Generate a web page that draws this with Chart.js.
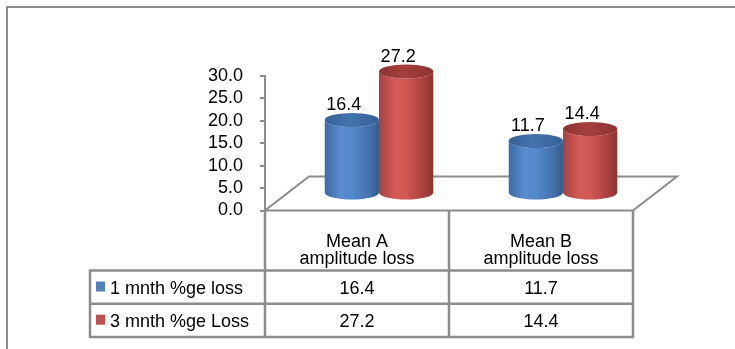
<!DOCTYPE html>
<html>
<head>
<meta charset="utf-8">
<script src="https://cdn.jsdelivr.net/npm/chart.js@4/dist/chart.umd.min.js"></script>
<style>
  html, body { margin: 0; padding: 0; background: #fff; overflow: hidden; }
  #wrap { width: 735px; height: 349px; position: relative; }
</style>
</head>
<body>
<div id="wrap"><canvas id="c" width="735" height="349"></canvas></div>
<script>
// Data
const categories = [['Mean A', 'amplitude loss'], ['Mean B', 'amplitude loss']];
const seriesNames = ['1 mnth %ge loss', '3 mnth %ge Loss'];
const oneMonthLoss = [16.4, 11.7];
const threeMonthLoss = [27.2, 14.4];
const yTicks = [0, 5, 10, 15, 20, 25, 30];

const FONT = "'Liberation Sans', Arial, sans-serif";
const FSIZE = 18;
const LINE = '#8c8c8c';
const DEPTH_X = 44, DEPTH_Y = 34;   // floor depth offset
const RY = 7;                        // ellipse half-height of cylinder caps

const looks = [
  { key: '#4F81BD', top: '#4473ab', rim: '#36609a',
    stops: [[0, '#3d6aa6'], [0.3, '#5a8dd0'], [0.5, '#5489cc'], [0.8, '#4573ae'], [1, '#345b8c']] },
  { key: '#C0504D', top: '#a5403e', rim: '#8d3331',
    stops: [[0, '#a8413f'], [0.3, '#d45c59'], [0.5, '#cf5653'], [0.8, '#ad4442'], [1, '#8a3230']] }
];

function cylinder(ctx, cx, top, bottom, rx, look) {
  const g = ctx.createLinearGradient(cx - rx, 0, cx + rx, 0);
  look.stops.forEach(([o, c]) => g.addColorStop(o, c));
  ctx.beginPath();
  ctx.moveTo(cx - rx, top);
  ctx.lineTo(cx - rx, bottom);
  ctx.ellipse(cx, bottom, rx, RY, 0, Math.PI, 0, true);
  ctx.lineTo(cx + rx, top);
  ctx.ellipse(cx, top, rx, RY, 0, 0, Math.PI, false);
  ctx.closePath();
  ctx.fillStyle = g;
  ctx.fill();
  // cap
  const tg = ctx.createLinearGradient(cx - rx, 0, cx + rx, 0);
  tg.addColorStop(0, look.rim);
  tg.addColorStop(0.45, look.top);
  tg.addColorStop(1, look.rim);
  ctx.beginPath();
  ctx.ellipse(cx, top, rx, RY, 0, 0, Math.PI * 2);
  ctx.fillStyle = tg;
  ctx.fill();
}

const framePlugin = {
  id: 'frame',
  beforeDatasetsDraw(chart) {
    const ctx = chart.ctx;
    const a = chart.chartArea;
    const xs = chart.scales.x;
    ctx.save();
    // outer frame
    ctx.fillStyle = LINE;
    ctx.fillRect(6, 6, 735, 2);
    ctx.fillRect(6, 6, 2, 349);

    // floor
    ctx.strokeStyle = LINE;
    ctx.lineWidth = 2;
    ctx.beginPath();
    ctx.moveTo(a.left, a.bottom);
    ctx.lineTo(a.left + DEPTH_X, a.bottom - DEPTH_Y);
    ctx.lineTo(a.right + DEPTH_X, a.bottom - DEPTH_Y);
    ctx.lineTo(a.right, a.bottom);
    ctx.lineTo(a.left, a.bottom);
    ctx.stroke();

    // data table
    const colW = (a.right - a.left) / categories.length;
    const rowTop = 270.5, rowH = 33.2;
    const tableLeft = 90;
    ctx.lineWidth = 2.5;
    ctx.beginPath();
    for (let i = 0; i <= categories.length; i++) {
      const x = a.left + colW * i;
      ctx.moveTo(x, a.bottom);
      ctx.lineTo(x, rowTop + rowH * 2);
    }
    ctx.moveTo(tableLeft, rowTop);
    ctx.lineTo(tableLeft, rowTop + rowH * 2);
    for (let r = 0; r <= 2; r++) {
      ctx.moveTo(tableLeft - 1.25, rowTop + rowH * r);
      ctx.lineTo(a.right + 1.25, rowTop + rowH * r);
    }
    ctx.stroke();

    ctx.fillStyle = '#000';
    ctx.font = `${FSIZE}px ${FONT}`;
    ctx.textAlign = 'center';
    ctx.textBaseline = 'alphabetic';
    categories.forEach((lines, i) => {
      const cx = xs.getPixelForValue(i);
      ctx.fillText(lines[0], cx, 246.5);
      ctx.fillText(lines[1], cx, 264);
    });
    const series = [oneMonthLoss, threeMonthLoss];
    series.forEach((vals, r) => {
      const base = rowTop + rowH * r + 23;
      vals.forEach((v, i) => {
        ctx.fillText(v.toFixed(1), xs.getPixelForValue(i), base);
      });
      ctx.textAlign = 'left';
      ctx.fillStyle = looks[r].key;
      ctx.fillRect(96, base - 12, 9, 10);
      ctx.fillStyle = '#000';
      ctx.fillText(seriesNames[r], 110, base);
      ctx.textAlign = 'center';
    });
    ctx.restore();
  },
  afterDatasetsDraw(chart) {
    const ctx = chart.ctx;
    ctx.save();
    const shiftX = DEPTH_X / 2, shiftY = DEPTH_Y / 2;
    const metas = chart.data.datasets.map((d, i) => chart.getDatasetMeta(i));
    const n = chart.data.labels.length;
    for (let i = 0; i < n; i++) {
      metas.forEach((meta, s) => {
        const el = meta.data[i];
        const p = el.getProps(['x', 'y', 'base', 'width'], true);
        const cx = p.x + shiftX;
        cylinder(ctx, cx, p.y - shiftY, p.base - shiftY, p.width / 2, looks[s]);
      });
    }
    // value labels
    ctx.fillStyle = '#000';
    ctx.font = `${FSIZE}px ${FONT}`;
    ctx.textAlign = 'center';
    ctx.textBaseline = 'middle';
    metas.forEach((meta, s) => {
      meta.data.forEach((el, i) => {
        const p = el.getProps(['x', 'y'], true);
        const v = chart.data.datasets[s].data[i];
        ctx.fillText(v.toFixed(1), p.x + shiftX - 8, p.y - shiftY - RY - 8);
      });
    });
    ctx.restore();
  }
};

new Chart(document.getElementById('c'), {
  type: 'bar',
  data: {
    labels: categories,
    datasets: [
      { label: seriesNames[0], data: oneMonthLoss, backgroundColor: 'rgba(0,0,0,0)',
        categoryPercentage: 0.59, barPercentage: 1 },
      { label: seriesNames[1], data: threeMonthLoss, backgroundColor: 'rgba(0,0,0,0)',
        categoryPercentage: 0.59, barPercentage: 1 }
    ]
  },
  options: {
    responsive: false,
    animation: false,
    devicePixelRatio: 1,
    layout: { padding: { top: 76, bottom: 138.5, left: 0, right: 102 } },
    plugins: { legend: { display: false }, tooltip: { enabled: false } },
    scales: {
      x: { display: false, offset: true },
      y: {
        min: 0, max: 30,
        afterFit(s) { s.width = 265; },
        afterBuildTicks(s) { s.ticks = yTicks.map(v => ({ value: v })); },
        ticks: {
          autoSkip: false,
          callback: v => Number(v).toFixed(1),
          font: { family: FONT, size: FSIZE },
          color: '#000',
          padding: 17
        },
        grid: { drawOnChartArea: false, drawTicks: true, tickLength: 5, color: LINE, lineWidth: 2 },
        border: { display: true, color: LINE, width: 2 }
      }
    }
  },
  plugins: [framePlugin]
});
</script>
</body>
</html>
